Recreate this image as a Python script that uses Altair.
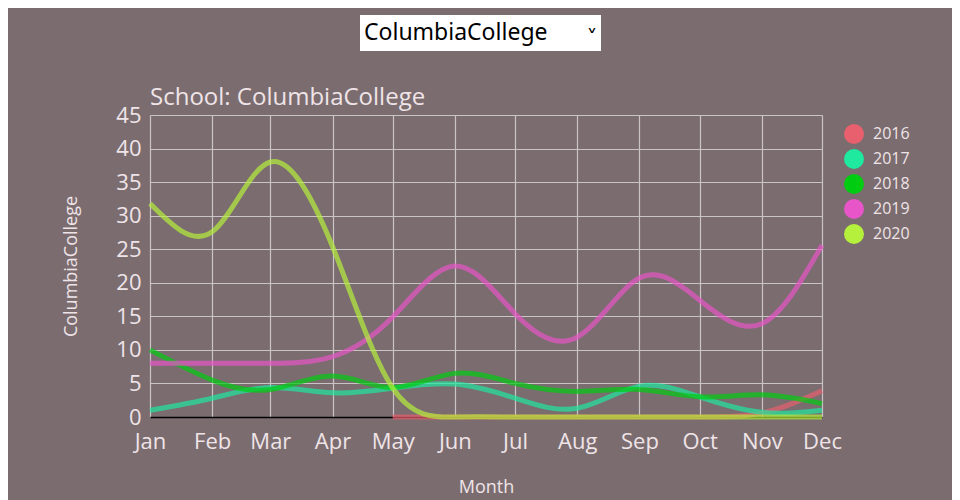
import altair as alt
import pandas as pd

months = ["2020-01-01", "2020-02-01", "2020-03-01", "2020-04-01", "2020-05-01", "2020-06-01",
          "2020-07-01", "2020-08-01", "2020-09-01", "2020-10-01", "2020-11-01", "2020-12-01"]
years = ["2016", "2017", "2018", "2019", "2020"]
y2016 = [None, None, None, None, 0, 0, 0, 0, 0, 0, 0.6, 3.9]
y2017 = [1.0, 2.8, 4.4, 3.6, 4.3, 4.9, 2.8, 1.3, 4.6, 3.0, 0.7, 1.0]
y2018 = [10.0, 5.5, 4.1, 6.1, 4.4, 6.5, 5.0, 3.8, 4.1, 3.0, 3.3, 2.0]
y2019 = [8.0, 8.0, 8.0, 9.0, 14.9, 22.5, 15.4, 11.9, 20.7, 17.4, 13.9, 25.6]
y2020 = [31.8, 27.6, 38.0, 25.4, 4.3, 0, 0, 0, 0, 0, 0, 0]
colors = ["#e8606e", "#1fe89f", "#00cc11", "#e855c8", "#b5f03c"]
school = "ColumbiaCollege"

series = [y2016, y2017, y2018, y2019, y2020]
rows = []
for yr, vals in zip(years, series):
    for m, v in zip(months, vals):
        if v is not None:
            rows.append({"date": m, "year": yr, "value": v})
df = pd.DataFrame(rows)

FONT = "Open Sans"
TXT = "#efe4e7"

x_enc = alt.X("date:T",
              scale=alt.Scale(domain=["2020-01-01", "2020-12-01"]),
              axis=alt.Axis(title="Month", format="%b", tickCount="month", labelFlush=False,
                            domain=True, domainColor="#000000", domainWidth=1.5,
                            labelPadding=14, titlePadding=26))
y_enc = alt.Y("value:Q",
              scale=alt.Scale(domain=[0, 45]),
              axis=alt.Axis(title=school, values=list(range(0, 50, 5)), domain=False,
                            labelPadding=9, titlePadding=35))
c_enc = alt.Color("year:N",
                  scale=alt.Scale(domain=years, range=colors),
                  legend=alt.Legend(title=None, symbolType="circle", symbolSize=400,
                                    symbolStrokeWidth=0, symbolOpacity=1,
                                    labelFontSize=16, labelFont=FONT, labelColor=TXT,
                                    labelOffset=9, rowPadding=5, padding=0,
                                    orient="none", legendX=694, legendY=9))

lines = alt.Chart(df).mark_line(interpolate="natural", strokeWidth=5, opacity=0.7).encode(
    x=x_enc, y=y_enc, color=c_enc)
pts = alt.Chart(df).mark_point(filled=True, opacity=0, size=1).encode(
    x=x_enc, y=y_enc, color=c_enc)

dd_data = pd.DataFrame({"label": [school], "title": ["School: " + school]})
dd_box = alt.Chart(dd_data).mark_rect(fill="white").encode(
    x=alt.value(210), x2=alt.value(451), y=alt.value(-100), y2=alt.value(-64))
dd_text = alt.Chart(dd_data).mark_text(align="left", baseline="middle", font="Noto Sans",
                                       fontSize=23, color="black").encode(
    x=alt.value(214), y=alt.value(-82), text="label:N")
dd_arrow = alt.Chart(dd_data).mark_text(align="center", baseline="middle", font="DejaVu Sans",
                                        fontSize=22, color="black").encode(
    x=alt.value(442), y=alt.value(-77), text=alt.value("˅"))
title_txt = alt.Chart(dd_data).mark_text(align="left", baseline="alphabetic", font=FONT,
                                         fontSize=24, color=TXT).encode(
    x=alt.value(0), y=alt.value(-10), text="title:N")

chart = alt.layer(lines, pts, dd_box, dd_text, dd_arrow, title_txt).properties(
    width=672, height=302,
    background="#7b6c70",
    padding={"left": 142, "top": 107, "right": 130, "bottom": 84},
    autosize=alt.AutoSizeParams(type="none"),
).configure_view(stroke=None).configure_axis(
    grid=True, gridColor="#cbc4c6", gridWidth=1.2, gridOpacity=1, ticks=False,
    labelFont=FONT, labelFontSize=22, labelColor=TXT,
    titleFont=FONT, titleFontSize=18, titleFontWeight="normal", titleColor=TXT,
)

chart.save("out.html", embed_options={"renderer": "svg", "actions": False})
